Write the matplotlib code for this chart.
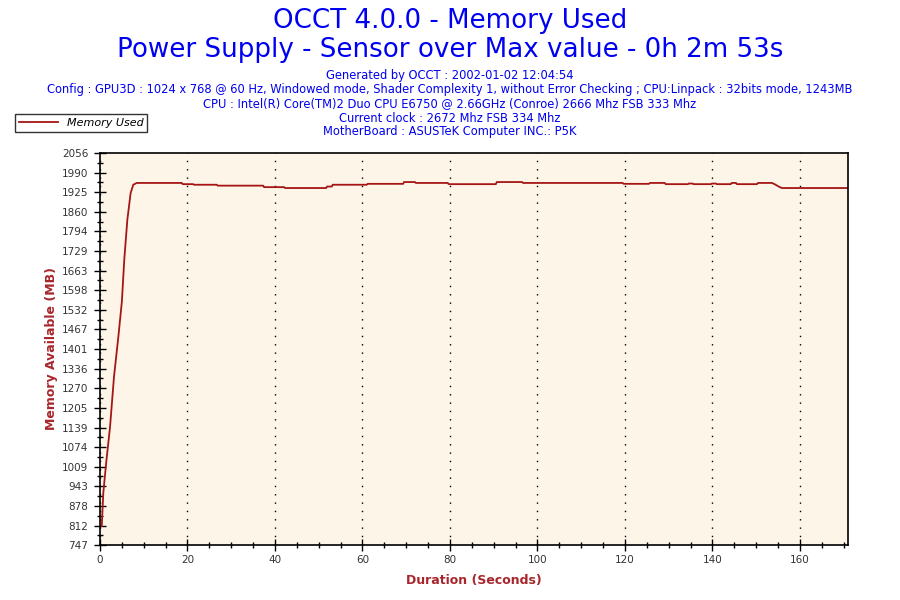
import matplotlib
matplotlib.use("Agg")
import matplotlib.pyplot as plt
from matplotlib.ticker import FixedLocator, MultipleLocator

# data (seconds, MB)
time_s = [0.4, 0.75, 1.4, 2.3, 3.2, 4.2, 5.0, 5.55, 6.25, 7.0, 7.6, 8.4,
          18.7, 18.9, 21.3, 21.5, 26.7, 26.9, 37.3, 37.5, 42.1, 42.3,
          51.7, 51.9, 53.0, 53.2, 61.0, 61.2, 69.3, 69.5, 72.0, 72.2,
          79.5, 79.7, 90.5, 90.7, 96.5, 96.7, 119.5, 119.7, 125.5, 125.7,
          129.1, 129.3, 134.4, 134.6, 135.5, 135.7, 139.7, 139.9, 140.8, 141.0,
          144.2, 144.4, 145.4, 145.6, 150.2, 150.4, 153.6, 154.2, 154.8, 155.4,
          155.9, 171.0]
mem_mb = [810, 920, 1020, 1142, 1309, 1443, 1560, 1700, 1833, 1922, 1950, 1956,
          1956, 1952, 1952, 1950, 1950, 1947, 1947, 1942, 1942, 1939,
          1939, 1944, 1944, 1950, 1950, 1953, 1953, 1959, 1959, 1956,
          1956, 1952, 1952, 1959, 1959, 1956, 1956, 1953, 1953, 1956,
          1956, 1952, 1952, 1954, 1954, 1952, 1952, 1954, 1954, 1952,
          1952, 1956, 1956, 1952, 1952, 1956, 1956, 1952, 1947, 1942,
          1939, 1939]

y_ticks = [747, 812, 878, 943, 1009, 1074, 1139, 1205, 1270, 1336, 1401,
           1467, 1532, 1598, 1663, 1729, 1794, 1860, 1925, 1990, 2056]

title1 = "OCCT 4.0.0 - Memory Used"
title2 = "Power Supply - Sensor over Max value - 0h 2m 53s"
info_lines = [
    "Generated by OCCT : 2002-01-02 12:04:54",
    "Config : GPU3D : 1024 x 768 @ 60 Hz, Windowed mode, Shader Complexity 1, "
    "without Error Checking ; CPU:Linpack : 32bits mode, 1243MB",
    "CPU : Intel(R) Core(TM)2 Duo CPU E6750 @ 2.66GHz (Conroe) 2666 Mhz FSB 333 Mhz",
    "Current clock : 2672 Mhz FSB 334 Mhz",
    "MotherBoard : ASUSTeK Computer INC.: P5K",
]

blue = "#0000F0"
red = "#A8262B"
line_red = "#A51515"

plt.rcParams['font.family'] = ['DejaVu Sans']

fig = plt.figure(figsize=(9, 6), dpi=100)
fig.patch.set_facecolor("white")
ax = fig.add_axes([100/900, 1 - 545/600, 748/900, 392/600])
ax.set_facecolor("#FDF6E8")

ax.plot(time_s, mem_mb, color=line_red, lw=1.3, label="Memory Used")

ax.set_xlim(0, 171)
ax.set_ylim(747, 2056)
ax.xaxis.set_major_locator(MultipleLocator(20))
ax.xaxis.set_minor_locator(MultipleLocator(5))
ax.yaxis.set_major_locator(FixedLocator(y_ticks))
minor_y = [(a + b) / 2 for a, b in zip(y_ticks[:-1], y_ticks[1:])]
ax.yaxis.set_minor_locator(FixedLocator(minor_y))

ax.tick_params(which="major", direction="inout", length=9, width=1,
               labelsize=7.5, labelcolor="#333333", pad=3)
ax.tick_params(which="minor", direction="inout", length=5, width=1)
ax.tick_params(axis="y", pad=4)
for s in ax.spines.values():
    s.set_linewidth(1.2)

ax.grid(axis="x", which="major", color="black", linestyle=(0, (1, 5)), lw=1)

ax.set_xlabel("Duration (Seconds)", color=red, fontweight="bold", fontsize=9, labelpad=6)
ax.set_ylabel("Memory Available (MB)", color=red, fontweight="bold", fontsize=9, labelpad=3)

fig.text(0.5, 1 - 21/600, title1, ha="center", va="center", color=blue, fontsize=18.8)
fig.text(0.5, 1 - 50/600, title2, ha="center", va="center", color=blue, fontsize=18.8)
for i, line in enumerate(info_lines):
    fig.text(0.5, 1 - (76 + i * 14)/600, line, ha="center", va="center",
             color=blue, fontsize=8.3)

leg = fig.legend(loc="upper left", bbox_to_anchor=(15/900, 1 - 114/600),
                 frameon=True, fancybox=False, edgecolor="black",
                 prop={"style": "italic", "size": 8}, handlelength=3.5,
                 borderpad=0.35, borderaxespad=0)
leg.get_frame().set_linewidth(1)

fig.savefig("out.png", dpi=100)
